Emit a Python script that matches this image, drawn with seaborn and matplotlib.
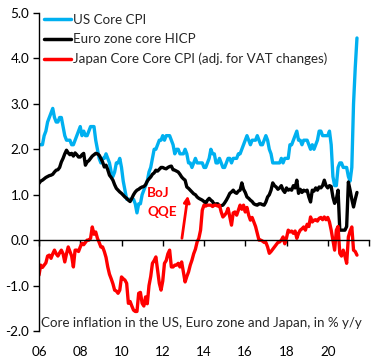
import numpy as np
import pandas as pd
import matplotlib
matplotlib.use("Agg")
import matplotlib.pyplot as plt
import seaborn as sns

# monthly y/y rates, Jan 2006 - Jun 2021
us_core_cpi = [
    2.1, 2.1, 2.1, 2.3, 2.4, 2.6, 2.7, 2.8, 2.9, 2.7, 2.6, 2.6,
    2.7, 2.7, 2.5, 2.3, 2.2, 2.2, 2.2, 2.1, 2.1, 2.2, 2.3, 2.4,
    2.5, 2.3, 2.4, 2.3, 2.3, 2.4, 2.5, 2.5, 2.5, 2.2, 2.0, 1.8,
    1.7, 1.8, 1.8, 1.9, 1.8, 1.7, 1.5, 1.4, 1.5, 1.7, 1.7, 1.8,
    1.6, 1.3, 1.1, 0.9, 0.9, 0.9, 0.9, 0.9, 0.8, 0.6, 0.8, 0.8,
    1.0, 1.1, 1.2, 1.3, 1.5, 1.6, 1.8, 2.0, 2.0, 2.1, 2.2, 2.2,
    2.3, 2.2, 2.3, 2.3, 2.3, 2.2, 2.1, 1.9, 2.0, 2.0, 1.9, 1.9,
    1.9, 2.0, 1.9, 1.7, 1.7, 1.6, 1.7, 1.8, 1.7, 1.7, 1.7, 1.7,
    1.6, 1.6, 1.7, 1.8, 2.0, 1.9, 1.9, 1.7, 1.7, 1.8, 1.7, 1.6,
    1.6, 1.7, 1.8, 1.8, 1.7, 1.8, 1.8, 1.8, 1.9, 1.9, 2.0, 2.1,
    2.2, 2.3, 2.2, 2.1, 2.2, 2.2, 2.2, 2.3, 2.2, 2.1, 2.1, 2.2,
    2.3, 2.2, 2.0, 1.9, 1.7, 1.7, 1.7, 1.7, 1.7, 1.8, 1.7, 1.8,
    1.8, 1.8, 2.1, 2.1, 2.2, 2.3, 2.4, 2.2, 2.2, 2.1, 2.2, 2.2,
    2.2, 2.1, 2.0, 2.1, 2.0, 2.1, 2.2, 2.4, 2.4, 2.3, 2.3, 2.3,
    2.3, 2.4, 2.1, 1.4, 1.2, 1.2, 1.6, 1.7, 1.7, 1.6, 1.6, 1.6,
    1.4, 1.3, 1.6, 3.0, 3.8, 4.45,
]

euro_core_hicp = [
    1.25, 1.3, 1.32, 1.35, 1.38, 1.4, 1.42, 1.43, 1.45, 1.5, 1.54, 1.55,
    1.6, 1.72, 1.8, 1.9, 1.98, 1.92, 1.88, 1.91, 1.85, 1.92, 1.88, 1.83,
    1.83, 1.88, 1.91, 1.65, 1.72, 1.75, 1.8, 1.85, 1.88, 1.91, 1.9, 1.87,
    1.8, 1.72, 1.61, 1.65, 1.55, 1.43, 1.38, 1.32, 1.22, 1.14, 1.1, 1.06,
    1.03, 0.99, 0.95, 0.92, 0.88, 0.85, 0.92, 1.0, 1.06, 1.1, 1.12, 1.15,
    1.17, 1.18, 1.22, 1.3, 1.35, 1.39, 1.45, 1.48, 1.54, 1.52, 1.56, 1.6,
    1.6, 1.58, 1.57, 1.6, 1.62, 1.63, 1.55, 1.54, 1.52, 1.5, 1.45, 1.39,
    1.35, 1.32, 1.17, 1.14, 1.1, 1.06, 1.02, 1.0, 0.95, 0.92, 0.9, 0.88,
    0.85, 0.81, 0.88, 0.92, 0.88, 0.85, 0.77, 0.8, 0.8, 0.75, 0.76, 0.77,
    0.82, 0.88, 0.95, 1.03, 1.06, 1.1, 1.05, 1.03, 1.08, 1.1, 1.26, 1.12,
    1.05, 0.95, 0.92, 0.88, 0.85, 0.8, 0.78, 0.77, 0.8, 0.8, 0.78, 0.77,
    0.84, 0.95, 1.0, 1.1, 1.26, 1.2, 1.17, 1.12, 1.15, 1.2, 1.1, 1.05,
    1.15, 1.1, 1.12, 1.1, 1.2, 1.15, 1.32, 1.03, 1.12, 1.05, 1.1, 1.08,
    1.1, 0.95, 0.84, 1.1, 1.08, 1.15, 1.1, 1.17, 1.15, 1.2, 1.32, 1.2,
    1.15, 1.2, 1.18, 0.95, 0.81, 0.9, 1.1, 0.22, 0.22, 0.22, 0.22, 0.3,
    1.28, 1.1, 0.9, 0.73, 0.9, 1.05,
]

japan_core_core_cpi = [
    -0.77, -0.55, -0.6, -0.55, -0.5, -0.35, -0.33, -0.4, -0.3, -0.22, -0.3, -0.35,
    -0.28, -0.22, -0.3, -0.48, -0.3, -0.15, -0.25, -0.35, -0.59, -0.22, -0.22, -0.25,
    -0.15, -0.07, -0.1, -0.05, 0.0, 0.0, 0.04, 0.29, 0.13, 0.18, 0.04, -0.05,
    -0.15, -0.15, -0.25, -0.38, -0.59, -0.75, -0.85, -0.96, -1.1, -1.12, -1.17, -1.1,
    -0.81, -0.85, -0.88, -0.95, -1.39, -1.35, -1.45, -1.54, -1.57, -1.57, -1.17, -1.15,
    -1.39, -1.45, -1.25, -1.4, -1.0, -0.8, -0.51, -0.45, -0.37, -0.66, -0.95, -1.1,
    -0.9, -0.51, -0.45, -0.3, -0.22, -0.59, -0.59, -0.55, -0.55, -0.51, -0.59, -0.48,
    -0.7, -0.92, -0.8, -0.7, -0.55, -0.44, -0.3, -0.2, -0.04, 0.04, 0.22, 0.66,
    0.77, 0.75, 0.77, 0.77, 0.77, 0.74, 0.77, 0.77, 0.75, 0.77, 0.62, 0.51,
    0.55, 0.6, 0.7, 0.51, 0.33, 0.6, 0.62, 0.55, 0.66, 0.77, 0.68, 0.77,
    0.62, 0.72, 0.55, 0.44, 0.5, 0.4, 0.3, 0.15, 0.0, 0.0, -0.02, -0.05,
    -0.05, -0.15, -0.29, -0.25, -0.2, -0.15, -0.1, -0.05, -0.04, 0.0, 0.07, -0.08,
    0.05, 0.22, 0.18, 0.2, 0.15, 0.2, 0.04, 0.15, 0.22, 0.25, 0.29, 0.22,
    0.35, 0.3, 0.51, 0.4, 0.44, 0.45, 0.42, 0.48, 0.5, 0.45, 0.51, 0.45,
    0.5, 0.4, 0.22, 0.0, -0.22, 0.22, 0.3, -0.29, -0.35, -0.22, -0.35, -0.51,
    0.07, 0.2, 0.29, -0.22, -0.25, -0.33,
]

series_names = ["US Core CPI", "Euro zone core HICP",
                "Japan Core Core CPI (adj. for VAT changes)"]
series_colors = ["#00B0F0", "#000000", "#FF0000"]
year_ticks = list(range(2006, 2023, 2))
year_labels = ["06", "08", "10", "12", "14", "16", "18", "20", ""]
y_ticks = [-2.0, -1.0, 0.0, 1.0, 2.0, 3.0, 4.0, 5.0]

n = len(us_core_cpi)
years = 2006 + np.arange(n) / 12
df = pd.concat([
    pd.DataFrame({"year": years, "value": vals, "series": name})
    for name, vals in zip(series_names,
                          [us_core_cpi, euro_core_hicp, japan_core_core_cpi])
])

sns.set_style("white")
plt.rcParams["font.family"] = ["Lato", "DejaVu Sans"]

# y range runs a little past 5.0 so the top tick is always inside the view;
# axes height is scaled so 5.0 still lands 13 px from the top
px_per_unit = 318 / 7
y_top = 5.06
ax_h = (y_top + 2) * px_per_unit
fig = plt.figure(figsize=(3.84, 3.6), dpi=100)
ax = fig.add_axes([39 / 384, 29 / 360, 330 / 384, ax_h / 360])

sns.lineplot(data=df, x="year", y="value", hue="series", hue_order=series_names,
             palette=dict(zip(series_names, series_colors)), lw=2.4, ax=ax)

ax.set_xlabel("")
ax.set_ylabel("")
ax.set_yticks(y_ticks)
ax.set_yticklabels([f"{v:.1f}" for v in y_ticks])
ax.set_xticks(year_ticks)
ax.set_xticklabels(year_labels)
ax.set_xlim(2006, 2022)
ax.set_ylim(-2, y_top)

for s in ["top", "right"]:
    ax.spines[s].set_visible(False)
ax.spines["bottom"].set_position(("data", 0))
ax.spines["left"].set_bounds(-2, 5)
for s in ["left", "bottom"]:
    ax.spines[s].set_color("black")
    ax.spines[s].set_linewidth(1)
ax.tick_params(axis="y", direction="out", length=4, width=1, color="black",
               labelcolor="black", labelsize=9.7, pad=3, left=True)
ax.tick_params(axis="x", direction="out", length=4, width=1, color="black",
               labelcolor="black", labelsize=9.7, pad=72, bottom=True)

leg = ax.legend(loc="upper left", bbox_to_anchor=(0.015, 0.988), frameon=False,
                fontsize=9.6, handlelength=2.0, handletextpad=0.15,
                labelspacing=0.55, borderaxespad=0, borderpad=0)
for line in leg.get_lines():
    line.set_linewidth(2.5)

ax.text(2011.25, 1.03, "BoJ", color="#FF0000", fontweight="bold",
        fontsize=9.7, va="center", ha="left")
ax.text(2011.25, 0.62, "QQE", color="#FF0000", fontweight="bold",
        fontsize=9.7, va="center", ha="left")
ax.annotate("", xy=(2013.22, 0.98), xytext=(2012.93, 0.04),
            arrowprops=dict(arrowstyle="-|>", color="#FF0000", lw=2,
                            mutation_scale=9, shrinkA=0, shrinkB=0))

ax.text(2006.1, -1.83, "Core inflation in the US, Euro zone and Japan, in % y/y",
        fontsize=9.6, va="center", ha="left")

fig.savefig("out.png", dpi=100)
